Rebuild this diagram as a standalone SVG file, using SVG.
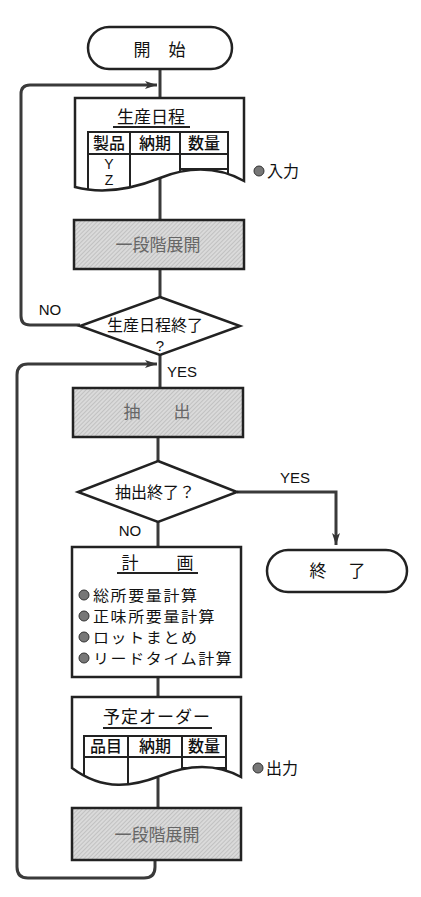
<svg xmlns="http://www.w3.org/2000/svg" width="421" height="897" viewBox="0 0 421 897">
<defs>
  <pattern id="hatch" width="3" height="3" patternUnits="userSpaceOnUse" patternTransform="rotate(45)">
    <rect width="3" height="3" fill="#dadada"/>
    <line x1="0" y1="0" x2="0" y2="3" stroke="#a8a8a8" stroke-width="1"/>
  </pattern>
  <marker id="arr" viewBox="0 0 12 8" refX="12" refY="4" markerWidth="12" markerHeight="8" markerUnits="userSpaceOnUse" orient="auto">
    <path d="M0,0 L12,4 L0,8 L3,4 Z" fill="#333"/>
  </marker>
  <clipPath id="doc1clip">
    <path d="M75,98 H244 V181 C215,165 185,168 160,178 C135,188 105,195 75,187 Z"/>
  </clipPath>
  <clipPath id="doc2clip">
    <path d="M72,697 H241 V777 C214,762 187,765 160,776 C134,786 104,792 72,768 Z"/>
  </clipPath>
</defs>
<style>
  .shape { fill: #fff; stroke: #222; stroke-width: 2.5; }
  .gray { fill: url(#hatch); stroke: #222; stroke-width: 2.5; }
  .conn { fill: none; stroke: #3a3a3a; stroke-width: 3; }
  .thin { fill: none; stroke: #222; stroke-width: 2; }
  .jp { font-family: "Noto Sans CJK JP", "Noto Sans", sans-serif; fill: #111; }
  .hd { font-family: "Noto Sans CJK JP", "Noto Sans", sans-serif; fill: #111; font-weight: 500; }
  .lat { font-family: "Liberation Sans", Arial, sans-serif; fill: #111; }
  .gtxt { font-family: "Noto Sans CJK JP", "Noto Sans", sans-serif; fill: #666; }
  .dot { fill: #777; stroke: #333; stroke-width: 1; }
  .item { font-family: "Noto Sans CJK JP", "Noto Sans", sans-serif; fill: #111; font-size: 16px; letter-spacing: 1.6px; }
</style>

<g id="connectors">
  <path class="conn" d="M160,69 V98"/>
  <path class="conn" d="M160,178 V220"/>
  <path class="conn" d="M160,269 V297"/>
  <path class="conn" d="M80,325 H30 Q21,325 21,316 V94 Q21,85 30,85 H157" marker-end="url(#arr)"/>
  <path class="conn" d="M160,355 V388"/>
  <path class="conn" d="M158,437 V461"/>
  <path class="conn" d="M237,492 H336 V545" marker-end="url(#arr)"/>
  <path class="conn" d="M158,522 V547"/>
  <path class="conn" d="M158,677 V697"/>
  <path class="conn" d="M158,778 V808"/>
  <path class="conn" d="M155,860 V867 Q155,878 144,878 H28 Q17,878 17,867 V375 Q17,364 28,364 H157" marker-end="url(#arr)"/>
  <text class="lat" x="50" y="315" font-size="15" text-anchor="middle">NO</text>
  <text class="lat" x="182" y="377" font-size="15" text-anchor="middle">YES</text>
  <text class="lat" x="295" y="483" font-size="15" text-anchor="middle">YES</text>
  <text class="lat" x="130" y="536" font-size="15" text-anchor="middle">NO</text>
</g>

<g id="start">
  <rect class="shape" x="88" y="27" width="144" height="42" rx="21" ry="21"/>
  <text class="jp" x="142" y="56" font-size="17" text-anchor="middle">開</text>
  <text class="jp" x="177" y="56" font-size="17" text-anchor="middle">始</text>
</g>

<g id="doc-schedule">
  <path class="shape" d="M75,98 H244 V181 C215,165 185,168 160,178 C135,188 105,195 75,187 Z"/>
  <text class="jp" x="151" y="123" font-size="17" text-anchor="middle">生産日程</text>
  <line class="thin" x1="113" y1="127" x2="190" y2="127"/>
  <g clip-path="url(#doc1clip)">
    <path class="thin" d="M88,200 V132 H228 V200 M88,154 H228 M130,132 V200 M180,132 V200 M180,169 H228"/>
  </g>
  <text class="hd" x="109" y="149" font-size="16" text-anchor="middle">製品</text>
  <text class="hd" x="155" y="149" font-size="16" text-anchor="middle">納期</text>
  <text class="hd" x="204" y="149" font-size="16" text-anchor="middle">数量</text>
  <text class="lat" x="109" y="169" font-size="14" text-anchor="middle">Y</text>
  <text class="lat" x="109" y="185" font-size="14" text-anchor="middle">Z</text>
  <circle class="dot" cx="259" cy="171" r="5"/>
  <text class="jp" x="267" y="177" font-size="16">入力</text>
</g>

<g id="expand1">
  <rect class="gray" x="74" y="220" width="170" height="49"/>
  <text class="gtxt" x="158" y="251" font-size="17" text-anchor="middle">一段階展開</text>
</g>

<g id="decision1">
  <polygon class="shape" points="160,297 240,326 160,355 80,326"/>
  <text class="jp" x="155" y="331" font-size="16" text-anchor="middle">生産日程終了</text>
  <text class="lat" x="160" y="351" font-size="15" text-anchor="middle">?</text>
</g>

<g id="extract">
  <rect class="gray" x="73" y="388" width="170" height="49"/>
  <text class="gtxt" x="132" y="418" font-size="17" text-anchor="middle">抽</text>
  <text class="gtxt" x="182" y="418" font-size="17" text-anchor="middle">出</text>
</g>

<g id="decision2">
  <polygon class="shape" points="158,461 237,492 158,522 78,492"/>
  <text class="jp" x="155" y="498" font-size="16" text-anchor="middle">抽出終了？</text>
</g>

<g id="end">
  <rect class="shape" x="267" y="550" width="140" height="42" rx="21" ry="21"/>
  <text class="jp" x="318" y="577" font-size="17" text-anchor="middle">終</text>
  <text class="jp" x="357" y="577" font-size="17" text-anchor="middle">了</text>
</g>

<g id="plan">
  <rect class="shape" x="72" y="547" width="169" height="130"/>
  <text class="jp" x="130" y="569" font-size="17" text-anchor="middle">計</text>
  <text class="jp" x="185" y="569" font-size="17" text-anchor="middle">画</text>
  <line class="thin" x1="117" y1="573" x2="198" y2="573"/>
  <circle class="dot" cx="84" cy="595" r="5"/>
  <circle class="dot" cx="84" cy="616" r="5"/>
  <circle class="dot" cx="84" cy="637" r="5"/>
  <circle class="dot" cx="84" cy="658" r="5"/>
  <text class="item" transform="translate(93,601) scale(1,0.9)">総所要量計算</text>
  <text class="item" transform="translate(93,622) scale(1,0.9)">正味所要量計算</text>
  <text class="item" transform="translate(93,643) scale(1,0.9)" letter-spacing="2.5">ロットまとめ</text>
  <text class="item" transform="translate(93,664) scale(1,0.9)" letter-spacing="1.2">リードタイム計算</text>
</g>

<g id="doc-orders">
  <path class="shape" d="M72,697 H241 V777 C214,762 187,765 160,776 C134,786 104,792 72,768 Z"/>
  <text class="jp" x="157" y="723" font-size="17" text-anchor="middle" letter-spacing="1">予定オーダー</text>
  <line class="thin" x1="103" y1="728" x2="212" y2="728"/>
  <g clip-path="url(#doc2clip)">
    <path class="thin" d="M84,800 V736 H226 V800 M84,757 H226 M128,736 V800 M182,736 V800 M182,768 H226"/>
  </g>
  <text class="hd" x="106" y="752" font-size="16" text-anchor="middle">品目</text>
  <text class="hd" x="155" y="752" font-size="16" text-anchor="middle">納期</text>
  <text class="hd" x="204" y="752" font-size="16" text-anchor="middle">数量</text>
  <circle class="dot" cx="258" cy="768" r="5"/>
  <text class="jp" x="266" y="774" font-size="16">出力</text>
</g>

<g id="expand2">
  <rect class="gray" x="72" y="808" width="169" height="52"/>
  <text class="gtxt" x="157" y="841" font-size="17" text-anchor="middle">一段階展開</text>
</g>
</svg>
